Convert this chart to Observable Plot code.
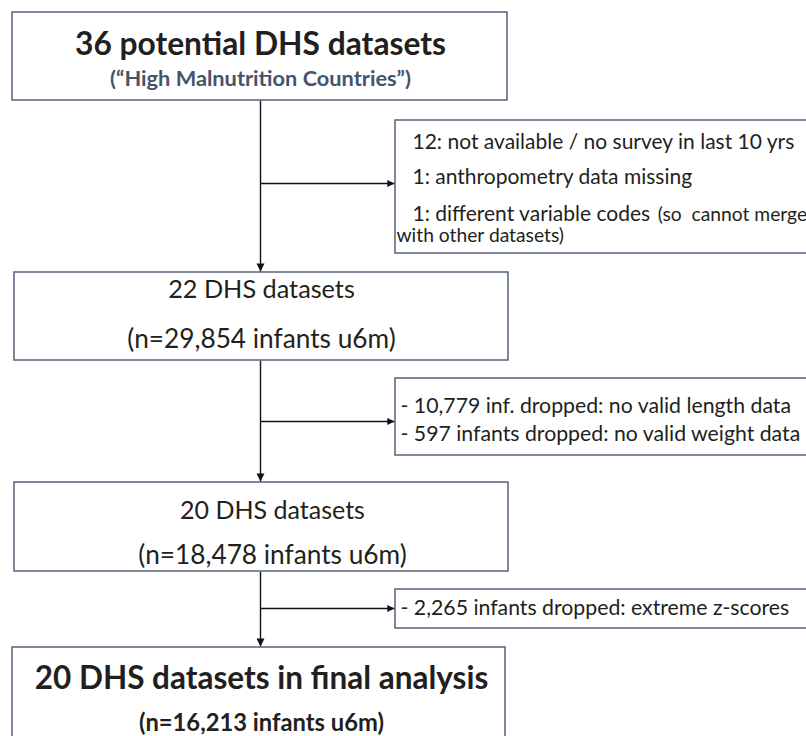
<!DOCTYPE html>
<html>
<head>
<meta charset="utf-8">
<script src="https://cdn.jsdelivr.net/npm/d3@7"></script>
<script src="https://cdn.jsdelivr.net/npm/@observablehq/plot@0.6"></script>
<style>
  html, body { margin: 0; padding: 0; background: white; overflow: hidden; }
  #chart svg { display: block; }
</style>
</head>
<body>
<div id="chart"></div>
<script>
// ---- Data (text content of the flow chart) ----
const stepTitles = [
  "36 potential DHS datasets",
  "22 DHS datasets",
  "20 DHS datasets",
  "20 DHS datasets in final analysis"
];
const stepSubtitles = [
  "(\u201cHigh Malnutrition Countries\u201d)",
  "(n=29,854 infants u6m)",
  "(n=18,478 infants u6m)",
  "(n=16,213 infants u6m)"
];
const exclusions1 = [
  "12: not available / no survey in last 10 yrs",
  "1: anthropometry data missing",
  "1: different variable codes"
];
const exclusions1Note = ["(so  cannot merge", "with other datasets)"];
const exclusions2 = [
  "- 10,779 inf. dropped: no valid length data",
  "- 597 infants dropped: no valid weight data"
];
const exclusions3 = ["- 2,265 infants dropped: extreme z-scores"];

// ---- Layout (pixel space of the 806 x 736 canvas) ----
const W = 806, H = 736;
const spineX = 260;
const mainBoxes = [
  {x1: 12, x2: 507, y1: 12,  y2: 100, cx: 260, tY: 54,  sY: 85,  tW: 370, sW: 300, bold: true, sub: "#44546a"},
  {x1: 14, x2: 508, y1: 272, y2: 360, cx: 261, tY: 297, sY: 347, tW: 186, sW: 269, bold: false, sub: "#231f20"},
  {x1: 14, x2: 508, y1: 482, y2: 571, cx: 272, tY: 518, sY: 563, tW: 185, sW: 269, bold: false, sub: "#231f20"},
  {x1: 12, x2: 505, y1: 647, y2: 760, cx: 261, tY: 688, sY: 730, tW: 455, sW: 245, bold: true, sub: "#231f20"}
];
const sideBoxes = [
  {x1: 395, x2: 830, y1: 120, y2: 253, arrowY: 183},
  {x1: 395, x2: 830, y1: 378, y2: 455, arrowY: 421},
  {x1: 395, x2: 830, y1: 589, y2: 628, arrowY: 608}
];
const side1Lines = [{x: 412, y: 148, w: 383}, {x: 412, y: 183}, {x: 412, y: 220}];
const side1Note = [{gap: 7, y: 220}, {x: 396, y: 241, w: 167}];
const side2Lines = [{x: 400, y: 412, w: 390}, {x: 400, y: 440}];
const side3Lines = [{x: 400, y: 614}];

const ink = "#231f20";
const border = "#56627a";
const FONT = "Lato";

// font size fitting via canvas measurement
const ctx = document.createElement("canvas").getContext("2d");
function measure(text, weight, size) {
  ctx.font = `${weight} ${size}px ${FONT}`;
  return ctx.measureText(text).width;
}
function fit(text, weight, width) {
  return Math.round(width / measure(text, weight, 100) * 100 * 4) / 4;
}

// text rows grouped by style
const boldTexts = [], regularMid = [], sideTexts = [];
mainBoxes.forEach((b, i) => {
  const w = b.bold ? "bold" : "normal";
  const target = b.bold ? boldTexts : regularMid;
  target.push({x: b.cx, y: b.tY, text: stepTitles[i], size: fit(stepTitles[i], w, b.tW), fill: ink});
  target.push({x: b.cx, y: b.sY, text: stepSubtitles[i], size: fit(stepSubtitles[i], w, b.sW), fill: b.sub});
});
const sideSize = fit(exclusions1[0], "normal", side1Lines[0].w);
exclusions1.forEach((t, i) => sideTexts.push({x: side1Lines[i].x, y: side1Lines[i].y, text: t, size: sideSize}));
const noteSize = fit(exclusions1Note[1], "normal", side1Note[1].w);
const noteX = side1Lines[2].x + measure(exclusions1[2], "normal", sideSize) + side1Note[0].gap;
sideTexts.push({x: noteX, y: side1Note[0].y, text: exclusions1Note[0], size: noteSize});
sideTexts.push({x: side1Note[1].x, y: side1Note[1].y, text: exclusions1Note[1], size: noteSize});
const s2 = fit(exclusions2[0], "normal", side2Lines[0].w);
exclusions2.forEach((t, i) => sideTexts.push({x: side2Lines[i].x, y: side2Lines[i].y, text: t, size: s2}));
exclusions3.forEach((t, i) => sideTexts.push({x: side3Lines[i].x, y: side3Lines[i].y, text: t, size: s2}));

// connectors
const spine = mainBoxes.slice(0, -1).map((b, i) => ({x1: spineX, y1: b.y2, x2: spineX, y2: mainBoxes[i + 1].y1 - 1}));
const branches = sideBoxes.map(s => ({x1: spineX, y1: s.arrowY, x2: s.x1 - 1, y2: s.arrowY}));

// custom arrowhead symbols (tip at the anchor point)
const headDown = {draw(c, s) { const r = Math.sqrt(s / Math.PI); c.moveTo(0, 0); c.lineTo(-r, -2 * r); c.lineTo(r, -2 * r); c.closePath(); }};
const headRight = {draw(c, s) { const r = Math.sqrt(s / Math.PI); c.moveTo(0, 0); c.lineTo(-2 * r, -r); c.lineTo(-2 * r, r); c.closePath(); }};

const chart = Plot.plot({
  width: W, height: H, margin: 0,
  x: {domain: [0, W], range: [0, W], axis: null},
  y: {domain: [0, H], range: [0, H], axis: null},
  style: {fontFamily: FONT, background: "white"},
  marks: [
    Plot.link(spine, {x1: "x1", y1: "y1", x2: "x2", y2: "y2", stroke: "#111", strokeWidth: 1.4}),
    Plot.link(branches, {x1: "x1", y1: "y1", x2: "x2", y2: "y2", stroke: "#111", strokeWidth: 1.4}),
    Plot.dot(spine, {x: "x2", y: "y2", symbol: headDown, r: 4, fill: "#111", stroke: "none"}),
    Plot.dot(branches, {x: "x2", y: "y2", symbol: headRight, r: 3.6, fill: "#111", stroke: "none"}),
    Plot.rect(mainBoxes, {x1: "x1", x2: "x2", y1: "y1", y2: "y2", fill: "white", stroke: border, strokeWidth: 1.5}),
    Plot.rect(sideBoxes, {x1: "x1", x2: "x2", y1: "y1", y2: "y2", fill: "white", stroke: border, strokeWidth: 1.5}),
    Plot.text(boldTexts, {x: "x", y: "y", text: "text", fontSize: "size", fontWeight: "bold", fill: "fill", textAnchor: "middle", lineAnchor: "bottom"}),
    Plot.text(regularMid, {x: "x", y: "y", text: "text", fontSize: "size", fontWeight: "normal", fill: "fill", textAnchor: "middle", lineAnchor: "bottom"}),
    Plot.text(sideTexts, {x: "x", y: "y", text: "text", fontSize: "size", fontWeight: "normal", fill: ink, textAnchor: "start", lineAnchor: "bottom"})
  ]
});
document.getElementById("chart").appendChild(chart);
</script>
</body>
</html>
